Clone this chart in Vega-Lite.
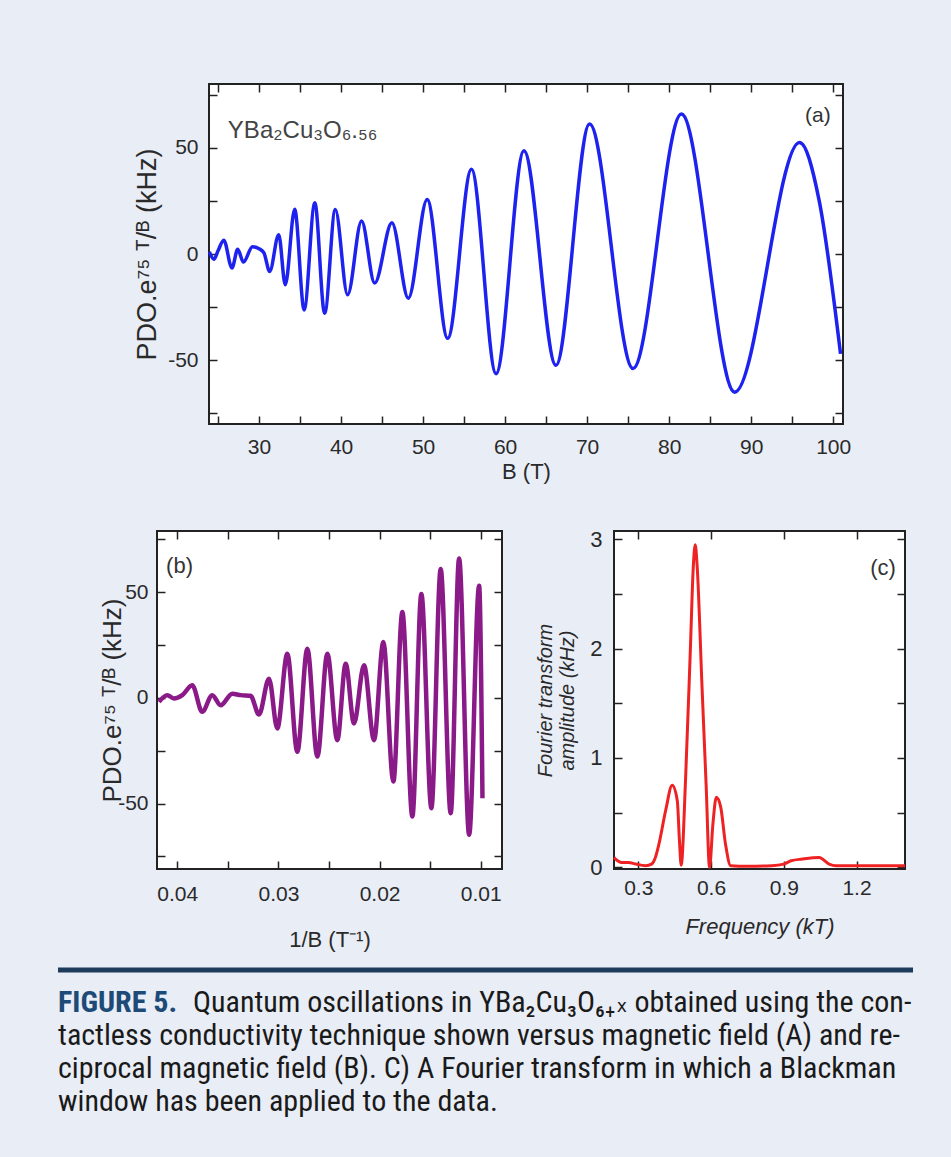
{
  "$schema": "https://vega.github.io/schema/vega-lite/v6.json",
  "background": "#e9edf6",
  "padding": {"left": 55, "top": 82, "right": 41, "bottom": 60},
  "config": {
    "font": "Liberation Sans",
    "view": {"stroke": "#222", "strokeWidth": 2, "fill": "white"},
    "axis": {
      "grid": false, "domain": false, "tickColor": "#222", "tickWidth": 1.5, "tickSize": -8,
      "labelFont": "Liberation Sans", "labelFontSize": 21, "labelColor": "#2a2a2a", "labelFlush": false, "labelOverlap": false,
      "titleFont": "Liberation Sans", "titleColor": "#2a2a2a", "titleFontWeight": "normal"
    }
  },
  "datasets": {
    "a": [
      {"B": 23.95, "v": 1}, {"B": 24.5, "v": -2.5}, {"B": 25.0, "v": 1.5}, {"B": 25.7, "v": 6.5}, {"B": 26.7, "v": -6.6},
      {"B": 27.4, "v": 2.2}, {"B": 28.1, "v": -3.8}, {"B": 29.2, "v": 3.4}, {"B": 30.0, "v": 2.5}, {"B": 30.6, "v": 0.5},
      {"B": 31.3, "v": -8.2}, {"B": 32.4, "v": 9.1}, {"B": 33.2, "v": -14.5}, {"B": 34.35, "v": 21}, {"B": 35.5, "v": -26.3},
      {"B": 36.8, "v": 24.1}, {"B": 38.0, "v": -27.9}, {"B": 39.3, "v": 21}, {"B": 40.8, "v": -19.2}, {"B": 42.5, "v": 15.5},
      {"B": 44.1, "v": -13.7}, {"B": 46.2, "v": 14.7}, {"B": 48.2, "v": -20.8}, {"B": 50.5, "v": 25.7}, {"B": 53.0, "v": -39.7},
      {"B": 55.9, "v": 39.9}, {"B": 58.9, "v": -56.3}, {"B": 62.3, "v": 48.6}, {"B": 66.2, "v": -52.4}, {"B": 70.3, "v": 61.2},
      {"B": 75.6, "v": -53.9}, {"B": 81.5, "v": 65.9}, {"B": 88.0, "v": -65}, {"B": 95.9, "v": 52.5}, {"B": 98.3, "v": 25},
      {"B": 100.9, "v": -47}
    ],
    "b": [
      {"ib": 0.04181, "v": -1.9}, {"ib": 0.04099, "v": 1.3}, {"ib": 0.04033, "v": -0.3}, {"ib": 0.0395, "v": 1.3},
      {"ib": 0.03852, "v": 6.0}, {"ib": 0.03753, "v": -6.6}, {"ib": 0.03654, "v": 1.3}, {"ib": 0.03571, "v": -3.5},
      {"ib": 0.03456, "v": 2.0}, {"ib": 0.03374, "v": 1.3}, {"ib": 0.03275, "v": 1.0}, {"ib": 0.03192, "v": -7.9},
      {"ib": 0.03093, "v": 9.1}, {"ib": 0.03011, "v": -14.5}, {"ib": 0.02912, "v": 20.9}, {"ib": 0.02813, "v": -25.5},
      {"ib": 0.02714, "v": 23.3}, {"ib": 0.02615, "v": -27.8}, {"ib": 0.02516, "v": 20.9}, {"ib": 0.02418, "v": -20.0},
      {"ib": 0.02335, "v": 16.2}, {"ib": 0.02253, "v": -12.1}, {"ib": 0.02154, "v": 15.4}, {"ib": 0.02055, "v": -20.0},
      {"ib": 0.01963, "v": 26.4}, {"ib": 0.01864, "v": -39.6}, {"ib": 0.01775, "v": 40.6}, {"ib": 0.01676, "v": -56.1},
      {"ib": 0.01587, "v": 49.2}, {"ib": 0.01488, "v": -52.2}, {"ib": 0.01396, "v": 61.0}, {"ib": 0.01297, "v": -54.6},
      {"ib": 0.01214, "v": 66.0}, {"ib": 0.01115, "v": -64.8}, {"ib": 0.01016, "v": 53.1}, {"ib": 0.00983, "v": -47.5}
    ],
    "c": [
      {"f": 0.2, "amp": 0.09}, {"f": 0.215, "amp": 0.06}, {"f": 0.23, "amp": 0.045}, {"f": 0.26, "amp": 0.045},
      {"f": 0.29, "amp": 0.03}, {"f": 0.33, "amp": 0.015}, {"f": 0.355, "amp": 0.03}, {"f": 0.372, "amp": 0.1},
      {"f": 0.385, "amp": 0.21}, {"f": 0.413, "amp": 0.52}, {"f": 0.44, "amp": 0.75}, {"f": 0.461, "amp": 0.61},
      {"f": 0.47, "amp": 0.24}, {"f": 0.477, "amp": 0.02}, {"f": 0.495, "amp": 0.8}, {"f": 0.515, "amp": 2.0},
      {"f": 0.527, "amp": 2.75}, {"f": 0.535, "amp": 2.95}, {"f": 0.543, "amp": 2.75}, {"f": 0.563, "amp": 1.65},
      {"f": 0.58, "amp": 0.75}, {"f": 0.594, "amp": 0.0}, {"f": 0.608, "amp": 0.4}, {"f": 0.622, "amp": 0.64},
      {"f": 0.64, "amp": 0.55}, {"f": 0.66, "amp": 0.21}, {"f": 0.681, "amp": 0.015}, {"f": 0.75, "amp": 0.01},
      {"f": 0.85, "amp": 0.015}, {"f": 0.9, "amp": 0.03}, {"f": 0.93, "amp": 0.06}, {"f": 0.977, "amp": 0.076},
      {"f": 1.046, "amp": 0.09}, {"f": 1.087, "amp": 0.03}, {"f": 1.115, "amp": 0.015}, {"f": 1.4, "amp": 0.015}
    ],
    "cap": [
      {"line": 1, "seg": "label", "text": "FIGURE 5."},
      {"line": 1, "seg": "first", "text": "Quantum oscillations in YBa₂Cu₃O₆₊ₓ obtained using the con-"},
      {"line": 2, "seg": "body", "text": "tactless conductivity technique shown versus magnetic field (A) and re-"},
      {"line": 3, "seg": "body", "text": "ciprocal magnetic field (B). C) A Fourier transform in which a Blackman"},
      {"line": 4, "seg": "body", "text": "window has been applied to the data."}
    ]
  },
  "spacing": 10,
  "vconcat": [
    {
      "spacing": 0,
      "hconcat": [
        {"width": 1, "height": 1, "view": {"stroke": null, "fill": null}, "data": {"values": []}, "mark": "point"},
        {
          "width": 634, "height": 340,
          "resolve": {"axis": {"x": "independent", "y": "independent"}},
          "layer": [
            {
              "data": {"name": "a"},
              "mark": {"type": "line", "color": "#1e22ef", "strokeWidth": 3.5, "interpolate": "monotone"},
              "encoding": {
                "x": {"field": "B", "type": "quantitative", "scale": {"domain": [23.9, 101.2], "nice": false, "zero": false},
                  "axis": {"orient": "bottom", "values": [25,30,35,40,45,50,55,60,65,70,75,80,85,90,95,100],
                    "labelExpr": "datum.value % 10 === 0 ? datum.label : ''", "labelPadding": 20,
                    "minExtent": 92, "maxExtent": 92, "title": "B (T)", "titleFontSize": 22, "titleY": 47, "titleBaseline": "middle"}},
                "y": {"field": "v", "type": "quantitative", "scale": {"domain": [-80, 80], "nice": false},
                  "axis": {"orient": "left", "values": [-75,-50,-25,0,25,50,75],
                    "labelExpr": "datum.value % 50 === 0 ? '' + datum.value : ''", "labelPadding": 19,
                    "minExtent": 149, "maxExtent": 149, "title": "PDO.e⁷⁵ ᵀ/ᴮ (kHz)", "titleFontSize": 27, "titleX": -62, "titleBaseline": "middle"}}
              }
            },
            {
              "data": {"name": "a"},
              "mark": {"type": "line", "opacity": 0},
              "encoding": {
                "x": {"field": "B", "type": "quantitative", "scale": {"domain": [23.9, 101.2], "nice": false, "zero": false},
                  "axis": {"orient": "top", "values": [25,30,35,40,45,50,55,60,65,70,75,80,85,90,95,100], "labels": false, "title": null, "minExtent": 0, "maxExtent": 0}},
                "y": {"field": "v", "type": "quantitative", "scale": {"domain": [-80, 80], "nice": false},
                  "axis": {"orient": "right", "values": [-75,-50,-25,0,25,50,75], "labels": false, "title": null, "minExtent": 0, "maxExtent": 0}}
              }
            },
            {
              "data": {"values": [{"label": "(a)"}]},
              "mark": {"type": "text", "align": "right", "baseline": "middle", "fontSize": 21, "color": "#333", "font": "Liberation Sans"},
              "encoding": {
                "x": {"datum": 99.7, "type": "quantitative", "axis": null},
                "y": {"datum": 65, "type": "quantitative", "axis": null},
                "text": {"field": "label"}
              }
            },
            {
              "data": {"values": [{"label": "YBa₂Cu₃O₆.₅₆"}]},
              "mark": {"type": "text", "align": "left", "baseline": "middle", "fontSize": 24, "color": "#444", "font": "Liberation Sans Narrow, Liberation Sans"},
              "encoding": {
                "x": {"datum": 26.2, "type": "quantitative", "axis": null},
                "y": {"datum": 58, "type": "quantitative", "axis": null},
                "text": {"field": "label"}
              }
            }
          ]
        }
      ]
    },
    {
      "spacing": 0,
      "hconcat": [
        {"width": 1, "height": 1, "view": {"stroke": null, "fill": null}, "data": {"values": []}, "mark": "point"},
        {
          "width": 345, "height": 338,
          "resolve": {"axis": {"x": "independent", "y": "independent"}},
          "layer": [
            {
              "data": {"name": "b"},
              "mark": {"type": "line", "color": "#8b1a89", "strokeWidth": 4.5, "interpolate": "monotone"},
              "encoding": {
                "x": {"field": "ib", "type": "quantitative", "scale": {"domain": [0.0079, 0.042], "reverse": true, "nice": false, "zero": false},
                  "axis": {"orient": "bottom", "values": [0.01,0.015,0.02,0.025,0.03,0.035,0.04],
                    "labelExpr": "abs(datum.value*100 - round(datum.value*100)) < 0.001 ? format(datum.value, '.2f') : ''", "labelPadding": 22,
                    "minExtent": 87, "maxExtent": 87, "title": "1/B (T⁻¹)", "titleFontSize": 22, "titleY": 70, "titleBaseline": "middle"}},
                "y": {"field": "v", "type": "quantitative", "scale": {"domain": [-81, 79], "nice": false},
                  "axis": {"orient": "left", "values": [-75,-50,-25,0,25,50,75],
                    "labelExpr": "datum.value % 50 === 0 ? '' + datum.value : ''", "labelPadding": 17,
                    "minExtent": 97, "maxExtent": 97, "title": "PDO.e⁷⁵ ᵀ/ᴮ (kHz)", "titleFontSize": 26, "titleX": -45, "titleBaseline": "middle"}}
              }
            },
            {
              "data": {"name": "b"},
              "mark": {"type": "line", "opacity": 0},
              "encoding": {
                "x": {"field": "ib", "type": "quantitative", "scale": {"domain": [0.0079, 0.042], "reverse": true, "nice": false, "zero": false},
                  "axis": {"orient": "top", "values": [0.01,0.015,0.02,0.025,0.03,0.035,0.04], "labels": false, "title": null, "minExtent": 0, "maxExtent": 0}},
                "y": {"field": "v", "type": "quantitative", "scale": {"domain": [-81, 79], "nice": false},
                  "axis": {"orient": "right", "values": [-75,-50,-25,0,25,50,75], "labels": false, "title": null, "minExtent": 0, "maxExtent": 0}}
              }
            },
            {
              "data": {"values": [{"label": "(b)"}]},
              "mark": {"type": "text", "align": "left", "baseline": "middle", "fontSize": 22, "color": "#333", "font": "Liberation Sans"},
              "encoding": {
                "x": {"datum": 0.0411, "type": "quantitative", "axis": null},
                "y": {"datum": 62.6, "type": "quantitative", "axis": null},
                "text": {"field": "label"}
              }
            }
          ]
        },
        {
          "width": 291, "height": 338,
          "resolve": {"axis": {"x": "independent", "y": "independent"}},
          "layer": [
            {
              "data": {"name": "c"},
              "mark": {"type": "line", "color": "#ee2222", "strokeWidth": 3, "interpolate": "monotone"},
              "encoding": {
                "x": {"field": "f", "type": "quantitative", "scale": {"domain": [0.2, 1.4], "nice": false, "zero": false},
                  "axis": {"orient": "bottom", "values": [0.3, 0.6, 0.9, 1.2], "format": ".1f", "labelPadding": 16, "labelFontSize": 21,
                    "minExtent": 60, "maxExtent": 60, "title": "Frequency (kT)", "titleFontSize": 22, "titleFontStyle": "italic", "titleY": 57, "titleBaseline": "middle"}},
                "y": {"field": "amp", "type": "quantitative", "scale": {"domain": [-0.015, 3.075], "nice": false},
                  "axis": {"orient": "left", "values": [0, 0.5, 1, 1.5, 2, 2.5, 3],
                    "labelExpr": "datum.value % 1 === 0 ? '' + datum.value : ''", "labelPadding": 20, "labelFontSize": 22,
                    "minExtent": 109, "maxExtent": 109, "title": ["Fourier transform", "amplitude (kHz)"], "titleFontSize": 20, "titleFontStyle": "italic", "titleLineHeight": 22, "titleX": -69, "titleBaseline": "middle"}}
              }
            },
            {
              "data": {"name": "c"},
              "mark": {"type": "line", "opacity": 0},
              "encoding": {
                "x": {"field": "f", "type": "quantitative", "scale": {"domain": [0.2, 1.4], "nice": false, "zero": false},
                  "axis": {"orient": "top", "values": [0.3, 0.6, 0.9, 1.2], "labels": false, "title": null, "minExtent": 0, "maxExtent": 0}},
                "y": {"field": "amp", "type": "quantitative", "scale": {"domain": [-0.015, 3.075], "nice": false},
                  "axis": {"orient": "right", "values": [0, 0.5, 1, 1.5, 2, 2.5, 3], "labels": false, "title": null, "minExtent": 0, "maxExtent": 0}}
              }
            },
            {
              "data": {"values": [{"label": "(c)"}]},
              "mark": {"type": "text", "align": "right", "baseline": "middle", "fontSize": 22, "color": "#333", "font": "Liberation Sans"},
              "encoding": {
                "x": {"datum": 1.362, "type": "quantitative", "axis": null},
                "y": {"datum": 2.74, "type": "quantitative", "axis": null},
                "text": {"field": "label"}
              }
            }
          ]
        }
      ]
    },
    {
      "width": 855, "height": 132,
      "view": {"stroke": null, "fill": null},
      "layer": [
        {
          "data": {"values": [{"line": 0}]},
          "mark": {"type": "rule", "color": "#1f3b5c", "strokeWidth": 5},
          "encoding": {"y": {"field": "line", "type": "quantitative", "scale": {"domain": [0, 4], "reverse": true}, "axis": null}}
        },
        {
          "data": {"name": "cap"},
          "transform": [{"filter": "datum.seg === 'label'"}],
          "mark": {"type": "text", "align": "left", "baseline": "middle", "fontSize": 30, "fontWeight": "bold", "color": "#1d4a76", "font": "Liberation Sans Narrow, Roboto Condensed, DejaVu Sans Condensed, Liberation Sans"},
          "encoding": {
            "x": {"datum": 0, "type": "quantitative", "scale": {"domain": [0, 1]}, "axis": null},
            "y": {"field": "line", "type": "quantitative", "scale": {"domain": [0, 4], "reverse": true}, "axis": null},
            "text": {"field": "text"}
          }
        },
        {
          "data": {"name": "cap"},
          "transform": [{"filter": "datum.seg === 'first'"}],
          "mark": {"type": "text", "align": "left", "baseline": "middle", "fontSize": 30, "dx": 135, "color": "#1a1a1a", "font": "Liberation Sans Narrow, Roboto Condensed, DejaVu Sans Condensed, Liberation Sans"},
          "encoding": {
            "x": {"datum": 0, "type": "quantitative", "scale": {"domain": [0, 1]}, "axis": null},
            "y": {"field": "line", "type": "quantitative", "scale": {"domain": [0, 4], "reverse": true}, "axis": null},
            "text": {"field": "text"}
          }
        },
        {
          "data": {"name": "cap"},
          "transform": [{"filter": "datum.seg === 'body'"}],
          "mark": {"type": "text", "align": "left", "baseline": "middle", "fontSize": 30, "color": "#1a1a1a", "font": "Liberation Sans Narrow, Roboto Condensed, DejaVu Sans Condensed, Liberation Sans"},
          "encoding": {
            "x": {"datum": 0, "type": "quantitative", "scale": {"domain": [0, 1]}, "axis": null},
            "y": {"field": "line", "type": "quantitative", "scale": {"domain": [0, 4], "reverse": true}, "axis": null},
            "text": {"field": "text"}
          }
        }
      ]
    }
  ]
}
